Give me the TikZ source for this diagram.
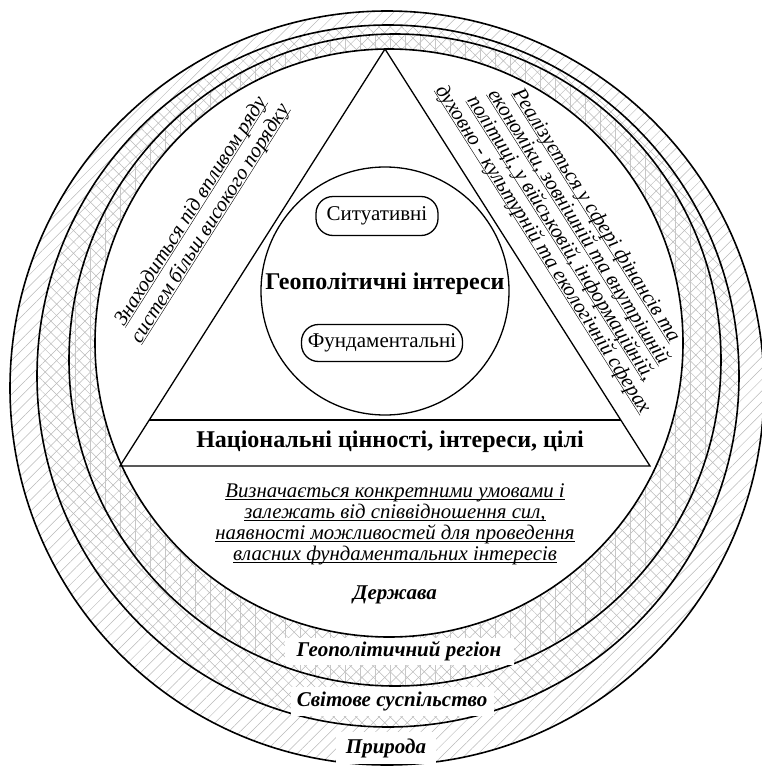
\documentclass[tikz,border=0pt]{standalone}
\usepackage{fontspec}
\setmainfont{Liberation Serif}
\usetikzlibrary{patterns.meta,calc}
\newcommand\ulx[1]{\underline{\smash{#1}}}
\begin{document}
\begin{tikzpicture}[x=1pt,y=-1pt,
  ringline/.style={line width=1.6pt},
  hatch/.style={pattern={Lines[angle=#1,distance=8pt,line width=0.5pt]},pattern color=black!28},
  pill/.style={draw,line width=1.3pt,rounded corners=17pt,font=\fontsize{21}{25}\selectfont},
  itxt/.style={font=\fontsize{20.8}{21}\selectfont\itshape,align=center,inner sep=0pt},
  lab/.style={font=\fontsize{21}{25}\selectfont\bfseries\itshape,inner sep=0pt},
  labbox/.style={lab,fill=white}]
\useasboundingbox (0,0) rectangle (762,768);
\coordinate (O1) at (387,388);
\coordinate (O2) at (388,376);
\coordinate (O3) at (395,360);
\coordinate (O4) at (389,343);
% ring hatching
\fill[hatch=45] (O1) circle[radius=377];
\fill[hatch=-45] (O2) circle[radius=351];
\fill[pattern={Lines[angle=90,distance=15pt,line width=0.5pt]},pattern color=black!22] (O3) circle[radius=326];
\fill[white] (O4) circle[radius=294];
\draw[ringline] (O1) circle[radius=377];
\draw[ringline] (O2) circle[radius=351];
\draw[ringline] (O3) circle[radius=326];
\draw[ringline] (O4) circle[radius=294];
% triangle
\coordinate (A) at (385,49);
\coordinate (B) at (120,466);
\coordinate (C) at (650,466);
\draw[line width=1.3pt,line join=miter] (A) -- (B) -- (C) -- cycle;
\coordinate (BL) at ($(B)!0.11!(A)$);
\coordinate (BR) at ($(C)!0.11!(A)$);
\draw[line width=1.3pt] (BL) -- (BR);
\node[font=\fontsize{24}{28}\selectfont\bfseries] (band) at (390,442) {Національні цінності, інтереси, цілі};
% inner circle
\node[draw,circle,line width=1.3pt,minimum size=248pt,inner sep=0pt] (gc) at (385,291) {};
\node[font=\fontsize{24}{28}\selectfont\bfseries] (geo) at (385,284) {Геополітичні інтереси};
\node[pill,minimum width=122pt,minimum height=39pt,inner sep=0pt] (sit) at (377,216) {Ситуативні};
\node[pill,minimum width=161pt,minimum height=37pt,inner sep=0pt] (fund) at (382,343) {Фундаментальні};
% texts
\node[itxt] (def) at (395,530) {\ulx{Визначається конкретними умовами і}\\ \ulx{залежать від співвідношення сил,}\\ \ulx{наявності можливостей для проведення}\\ \ulx{власних фундаментальних інтересів}};
\node[itxt,rotate=57.6,font=\fontsize{20.8}{23}\selectfont\itshape] (lt) at (206,221) {\ulx{Знаходиться під впливом ряду}\\ \ulx{систем більш високого порядку}};
\node[itxt,rotate=-57.6] (rt) at (564,236) {\ulx{Реалізується у сфері фінансів та}\\ \ulx{економіки, зовнішній та внутрішній}\\ \ulx{політиці, у військовій, інформаційній,}\\ \ulx{духовно - культурній та екологічній сферах}};
% level labels
\node[lab] (st) at (395,595) {Держава};
\node[labbox,minimum width=229pt,minimum height=27pt] (reg) at (399,651) {Геополітичний регіон};
\node[labbox,minimum width=203pt,minimum height=29pt] (soc) at (392,701) {Світове суспільство};
\node[labbox,minimum width=100pt,minimum height=32pt] (nat) at (386,748) {Природа};
\end{tikzpicture}
\end{document}
